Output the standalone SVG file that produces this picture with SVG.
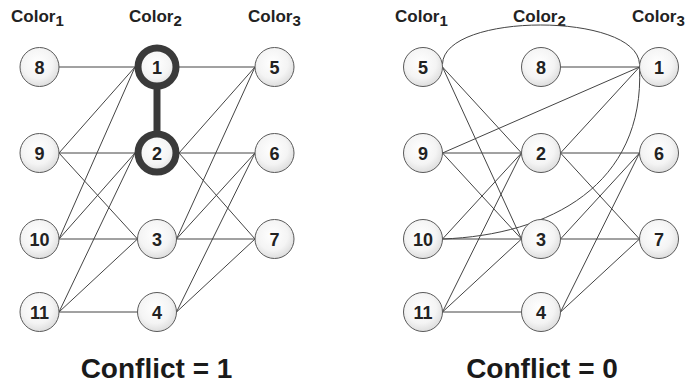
<svg xmlns="http://www.w3.org/2000/svg" width="691" height="383" viewBox="0 0 691 383">
  <defs>
    <radialGradient id="nodeFill" cx="45%" cy="40%" r="65%">
      <stop offset="0" stop-color="#ffffff"/>
      <stop offset="0.6" stop-color="#f4f4f4"/>
      <stop offset="1" stop-color="#d9d9d9"/>
    </radialGradient>
    <style>
      .edge { stroke: #444; stroke-width: 1; fill: none; }
      .edge-hot { stroke: #3a3a3a; stroke-width: 7; fill: none; }
      .node circle { fill: url(#nodeFill); stroke: #5a5a5a; stroke-width: 1; }
      .node.hot circle { stroke: #3a3a3a; stroke-width: 7; }
      .node text { font-family: "Liberation Sans", Arial, sans-serif; font-weight: bold; font-size: 18px; fill: #222; text-anchor: middle; }
      .hdr { font-family: "Liberation Sans", Arial, sans-serif; font-weight: bold; font-size: 17px; fill: #222; }
      .hdr tspan { font-size: 15px; }
      .caption { font-family: "Liberation Sans", Arial, sans-serif; font-weight: bold; font-size: 28px; fill: #1a1a1a; text-anchor: middle; }
    </style>
  </defs>

  <rect width="691" height="383" fill="#ffffff"/>

  <!-- column headers -->
  <g id="headers">
    <text class="hdr" x="11" y="22">Color<tspan dy="4">1</tspan></text>
    <text class="hdr" x="129" y="22">Color<tspan dy="4">2</tspan></text>
    <text class="hdr" x="248" y="22">Color<tspan dy="4">3</tspan></text>
    <text class="hdr" x="395" y="22">Color<tspan dy="4">1</tspan></text>
    <text class="hdr" x="513" y="22">Color<tspan dy="4">2</tspan></text>
    <text class="hdr" x="632" y="22">Color<tspan dy="4">3</tspan></text>
  </g>

  <!-- connectors, left colouring -->
  <g id="edges-left">
    <line class="edge" x1="59" y1="67" x2="135" y2="67"/>
    <line class="edge" x1="59" y1="153" x2="135" y2="67"/>
    <line class="edge" x1="59" y1="153" x2="135" y2="153"/>
    <line class="edge" x1="59" y1="153" x2="137.5" y2="239"/>
    <line class="edge" x1="59" y1="239" x2="135" y2="67"/>
    <line class="edge" x1="59" y1="239" x2="135" y2="153"/>
    <line class="edge" x1="59" y1="239" x2="137.5" y2="239"/>
    <line class="edge" x1="59" y1="312" x2="135" y2="153"/>
    <line class="edge" x1="59" y1="312" x2="137.5" y2="239"/>
    <line class="edge" x1="59" y1="312" x2="137.5" y2="312"/>
    <line class="edge" x1="179" y1="67" x2="255" y2="67"/>
    <line class="edge" x1="179" y1="153" x2="255" y2="67"/>
    <line class="edge" x1="179" y1="153" x2="255" y2="153"/>
    <line class="edge" x1="179" y1="153" x2="255" y2="239"/>
    <line class="edge" x1="176.5" y1="239" x2="255" y2="67"/>
    <line class="edge" x1="176.5" y1="239" x2="255" y2="153"/>
    <line class="edge" x1="176.5" y1="239" x2="255" y2="239"/>
    <line class="edge" x1="176.5" y1="312" x2="255" y2="153"/>
    <line class="edge" x1="176.5" y1="312" x2="255" y2="239"/>
    <line class="edge-hot" x1="157" y1="86" x2="157" y2="134"/>
  </g>

  <!-- connectors, right colouring -->
  <g id="edges-right">
    <path class="edge" d="M442.5,64 C 444,12 637,12 639.5,64"/>
    <path class="edge" d="M442.5,239 C 550,235 645,185 639.5,67"/>
    <line class="edge" x1="442.5" y1="67" x2="521.5" y2="153"/>
    <line class="edge" x1="442.5" y1="67" x2="521.5" y2="239"/>
    <line class="edge" x1="560.5" y1="67" x2="639.5" y2="67"/>
    <line class="edge" x1="442.5" y1="153" x2="639.5" y2="67"/>
    <line class="edge" x1="442.5" y1="153" x2="521.5" y2="153"/>
    <line class="edge" x1="442.5" y1="153" x2="521.5" y2="239"/>
    <line class="edge" x1="442.5" y1="239" x2="521.5" y2="153"/>
    <line class="edge" x1="442.5" y1="239" x2="521.5" y2="239"/>
    <line class="edge" x1="442.5" y1="312" x2="521.5" y2="153"/>
    <line class="edge" x1="442.5" y1="312" x2="521.5" y2="239"/>
    <line class="edge" x1="442.5" y1="312" x2="521.5" y2="312"/>
    <line class="edge" x1="639.5" y1="67" x2="560.5" y2="153"/>
    <line class="edge" x1="560.5" y1="153" x2="639.5" y2="153"/>
    <line class="edge" x1="560.5" y1="153" x2="639.5" y2="239"/>
    <line class="edge" x1="560.5" y1="239" x2="639.5" y2="153"/>
    <line class="edge" x1="560.5" y1="239" x2="639.5" y2="239"/>
    <line class="edge" x1="560.5" y1="312" x2="639.5" y2="153"/>
    <line class="edge" x1="560.5" y1="312" x2="639.5" y2="239"/>
  </g>

  <!-- nodes, left colouring -->
  <g id="L8" class="node"><circle cx="39.5" cy="67" r="19.5"/><text x="39.5" y="73.5">8</text></g>
  <g id="L9" class="node"><circle cx="39.5" cy="153" r="19.5"/><text x="39.5" y="159.5">9</text></g>
  <g id="L10" class="node"><circle cx="39.5" cy="239" r="19.5"/><text x="39.5" y="245.5">10</text></g>
  <g id="L11" class="node"><circle cx="39.5" cy="312" r="19.5"/><text x="39.5" y="318.5">11</text></g>
  <g id="L1" class="node hot"><circle cx="157" cy="67" r="19"/><text x="157" y="73.5">1</text></g>
  <g id="L2" class="node hot"><circle cx="157" cy="153" r="19"/><text x="157" y="159.5">2</text></g>
  <g id="L3" class="node"><circle cx="157" cy="239" r="19.5"/><text x="157" y="245.5">3</text></g>
  <g id="L4" class="node"><circle cx="157" cy="312" r="19.5"/><text x="157" y="318.5">4</text></g>
  <g id="L5" class="node"><circle cx="274.5" cy="67" r="19.5"/><text x="274.5" y="73.5">5</text></g>
  <g id="L6" class="node"><circle cx="274.5" cy="153" r="19.5"/><text x="274.5" y="159.5">6</text></g>
  <g id="L7" class="node"><circle cx="274.5" cy="239" r="19.5"/><text x="274.5" y="245.5">7</text></g>

  <!-- nodes, right colouring -->
  <g id="R5" class="node"><circle cx="423" cy="67" r="19.5"/><text x="423" y="73.5">5</text></g>
  <g id="R9" class="node"><circle cx="423" cy="153" r="19.5"/><text x="423" y="159.5">9</text></g>
  <g id="R10" class="node"><circle cx="423" cy="239" r="19.5"/><text x="423" y="245.5">10</text></g>
  <g id="R11" class="node"><circle cx="423" cy="312" r="19.5"/><text x="423" y="318.5">11</text></g>
  <g id="R8" class="node"><circle cx="541" cy="67" r="19.5"/><text x="541" y="73.5">8</text></g>
  <g id="R2" class="node"><circle cx="541" cy="153" r="19.5"/><text x="541" y="159.5">2</text></g>
  <g id="R3" class="node"><circle cx="541" cy="239" r="19.5"/><text x="541" y="245.5">3</text></g>
  <g id="R4" class="node"><circle cx="541" cy="312" r="19.5"/><text x="541" y="318.5">4</text></g>
  <g id="R1" class="node"><circle cx="659" cy="67" r="19.5"/><text x="659" y="73.5">1</text></g>
  <g id="R6" class="node"><circle cx="659" cy="153" r="19.5"/><text x="659" y="159.5">6</text></g>
  <g id="R7" class="node"><circle cx="659" cy="239" r="19.5"/><text x="659" y="245.5">7</text></g>

  <!-- captions -->
  <text class="caption" x="156.5" y="378">Conflict = 1</text>
  <text class="caption" x="542" y="378">Conflict = 0</text>
</svg>
